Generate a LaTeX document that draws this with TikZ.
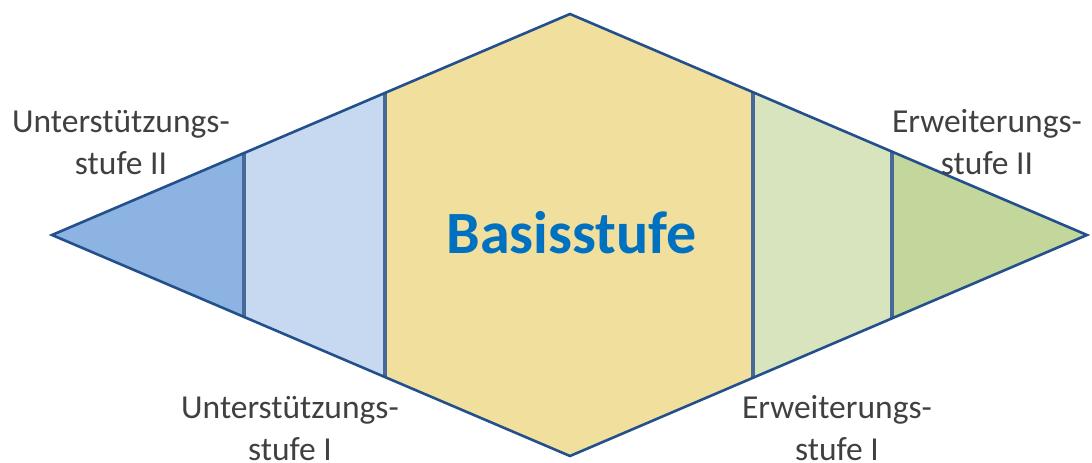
\documentclass[tikz,border=0pt]{standalone}
\usepackage{fontspec}
\setmainfont{Carlito}
\usetikzlibrary{calc}
\definecolor{bluedark}{HTML}{8DB3E2}
\definecolor{bluelight}{HTML}{C6D9F1}
\definecolor{basisyellow}{HTML}{F1DF9D}
\definecolor{greenlight}{HTML}{D8E4BD}
\definecolor{greendark}{HTML}{C3D69B}
\definecolor{outlineblue}{HTML}{23508C}
\definecolor{dividerblue}{HTML}{46699A}
\definecolor{labelgray}{HTML}{404040}
\definecolor{basisblue}{HTML}{0070C0}
\begin{document}
\begin{tikzpicture}[x=1pt,y=-1pt,
  outline/.style={draw=outlineblue, line width=2.6pt, line join=miter},
  divider/.style={draw=dividerblue, line width=3.2pt},
  lbl/.style={font=\fontsize{33.5}{42}\selectfont, text=labelgray, align=center, inner sep=0pt, anchor=base},
  title/.style={font=\fontsize{60}{70}\selectfont\bfseries, text=basisblue, inner sep=0pt, anchor=base}]
\useasboundingbox (0,0) rectangle (1092,463);
\coordinate (L) at (52,235);
\coordinate (T) at (570,14);
\coordinate (R) at (1087,235);
\coordinate (B) at (570,456);
% divider points
\coordinate (l1t) at ($(L)!0.3707!(T)$);
\coordinate (l1b) at ($(L)!0.3707!(B)$);
\coordinate (l2t) at ($(L)!0.6429!(T)$);
\coordinate (l2b) at ($(L)!0.6429!(B)$);
\coordinate (r2t) at ($(R)!0.6460!(T)$);
\coordinate (r2b) at ($(R)!0.6460!(B)$);
\coordinate (r1t) at ($(R)!0.3772!(T)$);
\coordinate (r1b) at ($(R)!0.3772!(B)$);
% regions
\fill[bluedark] (L) -- (l1t) -- (l1b) -- cycle;
\fill[bluelight] (l1t) -- (l2t) -- (l2b) -- (l1b) -- cycle;
\fill[basisyellow] (l2t) -- (T) -- (r2t) -- (r2b) -- (B) -- (l2b) -- cycle;
\fill[greenlight] (r2t) -- (r1t) -- (r1b) -- (r2b) -- cycle;
\fill[greendark] (r1t) -- (R) -- (r1b) -- cycle;
% dividers
\draw[divider] (l1t) -- (l1b);
\draw[divider] (l2t) -- (l2b);
\draw[divider] (r2t) -- (r2b);
\draw[divider] (r1t) -- (r1b);
% outline
\draw[outline] (L) -- (T) -- (R) -- (B) -- cycle;
% labels
\node[title] (basis) at (571.5,253) {Basisstufe};
\node[lbl] (u2) at (121,174) {Unterstützungs-\\stufe II};
\node[lbl] (e2) at (987,174) {Erweiterungs-\\stufe II};
\node[lbl] (u1) at (290,460) {Unterstützungs-\\stufe I};
\node[lbl] (e1) at (837,460) {Erweiterungs-\\stufe I};
\end{tikzpicture}
\end{document}
